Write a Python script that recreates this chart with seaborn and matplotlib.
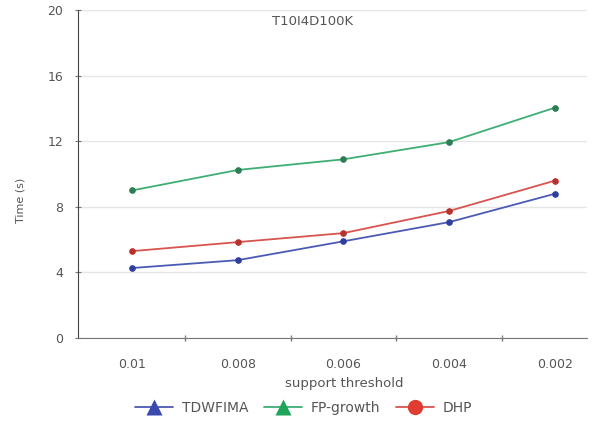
import matplotlib
matplotlib.use("Agg")
import matplotlib.pyplot as plt
from matplotlib.lines import Line2D
import pandas as pd
import seaborn as sns

thresholds = ["0.01", "0.008", "0.006", "0.004", "0.002"]
tdwfima = [4.27, 4.75, 5.9, 7.07, 8.8]
fp_growth = [9.0, 10.25, 10.9, 11.95, 14.05]
dhp = [5.3, 5.85, 6.4, 7.75, 9.6]

series = {"TDWFIMA": tdwfima, "FP-growth": fp_growth, "DHP": dhp}
colors = {"TDWFIMA": "#4b5bb5", "FP-growth": "#3fae74", "DHP": "#d9534f"}
marker_colors = {"TDWFIMA": "#2e3f9e", "FP-growth": "#2e7d55", "DHP": "#b8322c"}
legend_markers = {"TDWFIMA": "^", "FP-growth": "^", "DHP": "o"}
legend_fill = {"TDWFIMA": "#3a48b0", "FP-growth": "#1fa55a", "DHP": "#e03c31"}

rows = []
for name, vals in series.items():
    for i, v in enumerate(vals):
        rows.append({"pos": i, "time": v, "algo": name})
df = pd.DataFrame(rows)

sns.set_style("white")
plt.rcParams["font.family"] = ["DejaVu Sans"]
text_col = "#555555"

fig = plt.figure(figsize=(5.95, 4.21), dpi=100)
ax = fig.add_axes([0.131, 0.197, 0.855, 0.779])

for name in series:
    sub = df[df["algo"] == name]
    sns.lineplot(data=sub, x="pos", y="time", color=colors[name], linewidth=1.3,
                 marker="o", markersize=4, markerfacecolor=marker_colors[name],
                 markeredgecolor=marker_colors[name], ax=ax, legend=False)

ax.set_ylim(0, 20)
ax.set_yticks([0, 4, 8, 12, 16, 20])
ax.set_xlim(-0.51, 4.30)
ax.set_xticks(range(len(thresholds)))
ax.set_xticklabels(thresholds)
ax.set_xticks([0.5, 1.5, 2.5, 3.5], minor=True)
ax.yaxis.grid(True, color="#e6e6e6", linewidth=1)
ax.set_axisbelow(True)

for s in ["top", "right"]:
    ax.spines[s].set_visible(False)
ax.spines["left"].set_color("#444444")
ax.spines["bottom"].set_color("#777777")
ax.tick_params(bottom=True, left=True)
ax.tick_params(axis="x", which="major", length=0, pad=14, labelsize=9, labelcolor=text_col)
ax.tick_params(axis="x", which="minor", bottom=True, length=5, direction="inout",
               color="#777777", width=1)
ax.tick_params(axis="y", length=5, direction="inout", color="#777777", labelsize=9,
               labelcolor=text_col, pad=8)

ax.set_xlabel("support threshold", fontsize=9.5, color=text_col)
ax.xaxis.set_label_coords(0.523, -0.12)
ax.set_ylabel("Time (s)", fontsize=8, color=text_col)
ax.yaxis.set_label_coords(-0.103, 0.42)
ax.text(0.462, 0.985, "T10I4D100K", transform=ax.transAxes, ha="center", va="top",
        fontsize=9.5, color=text_col)

handles = [Line2D([0], [0], color=colors[n], linewidth=1.3, marker=legend_markers[n],
                  markersize=11, markerfacecolor=legend_fill[n],
                  markeredgecolor="none") for n in series]
fig.legend(handles, list(series.keys()), loc="center", bbox_to_anchor=(0.51, 0.031),
           ncol=3, frameon=False, fontsize=10, labelcolor=text_col,
           handlelength=2.8, columnspacing=1.1, handletextpad=0.6)

fig.savefig("out.png", dpi=100)
